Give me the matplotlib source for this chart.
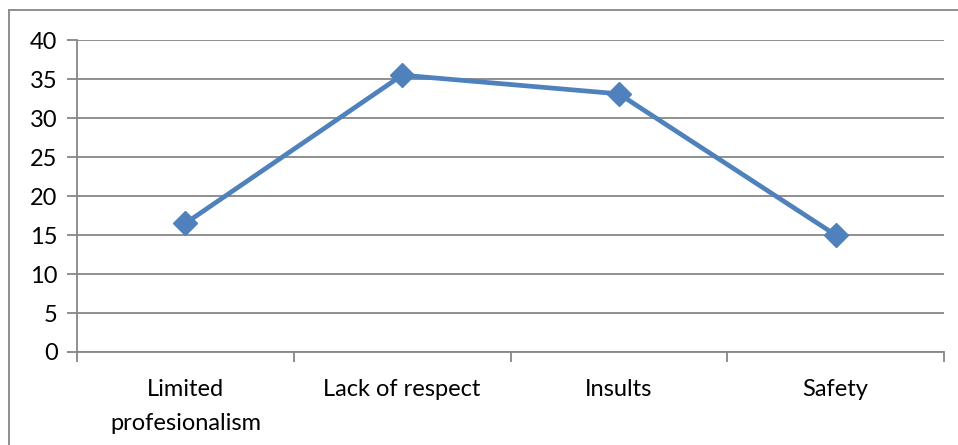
import matplotlib.pyplot as plt
import matplotlib.lines as mlines
import numpy as np

# survey categories and their scores
categories = ['Limited\nprofesionalism', 'Lack of respect', 'Insults', 'Safety']
scores = [16.5, 35.5, 33.1, 15.0]

plt.rcParams['font.family'] = ['Lato', 'DejaVu Sans']

fig = plt.figure(figsize=(9.58, 4.45), dpi=100)
ax = fig.add_axes([0.0804, 0.209, 0.905, 0.701])

x = np.arange(len(categories))
ax.plot(x, scores, color='#4F81BD', linewidth=3.4, marker='D', markersize=12,
        markerfacecolor='#4F81BD', markeredgecolor='#4F81BD', zorder=3)

ax.set_xlim(-0.5, len(categories) - 0.5)
ax.set_ylim(0, 40)
ax.set_yticks(range(0, 41, 5))
ax.yaxis.grid(True, color='#868686', linewidth=1.3)
ax.set_axisbelow(True)

# category ticks sit between the groups
ax.set_xticks(x)
ax.set_xticklabels(categories, fontsize=17)
for lbl in ax.get_xticklabels():
    lbl.set_linespacing(1.75)
ax.set_xticks(np.arange(-0.5, len(categories), 1), minor=True)
ax.tick_params(axis='x', which='major', length=0, pad=19.5)
ax.tick_params(axis='x', which='minor', length=7, color='#868686', width=1.3)
ax.tick_params(axis='y', length=7, color='#868686', width=1.3, labelsize=17, pad=7)

for s in ['top', 'right']:
    ax.spines[s].set_visible(False)
for s in ['left', 'bottom']:
    ax.spines[s].set_color('#868686')
    ax.spines[s].set_linewidth(1.3)

# outer chart frame: top and left edges only
top_y = 1 - 10 / 445
left_x = 9 / 958
fig.lines.append(mlines.Line2D([left_x, 1], [top_y, top_y], transform=fig.transFigure,
                               color='#868686', linewidth=1.3))
fig.lines.append(mlines.Line2D([left_x, left_x], [0, top_y], transform=fig.transFigure,
                               color='#868686', linewidth=1.3))

fig.savefig('out.png', dpi=100)
